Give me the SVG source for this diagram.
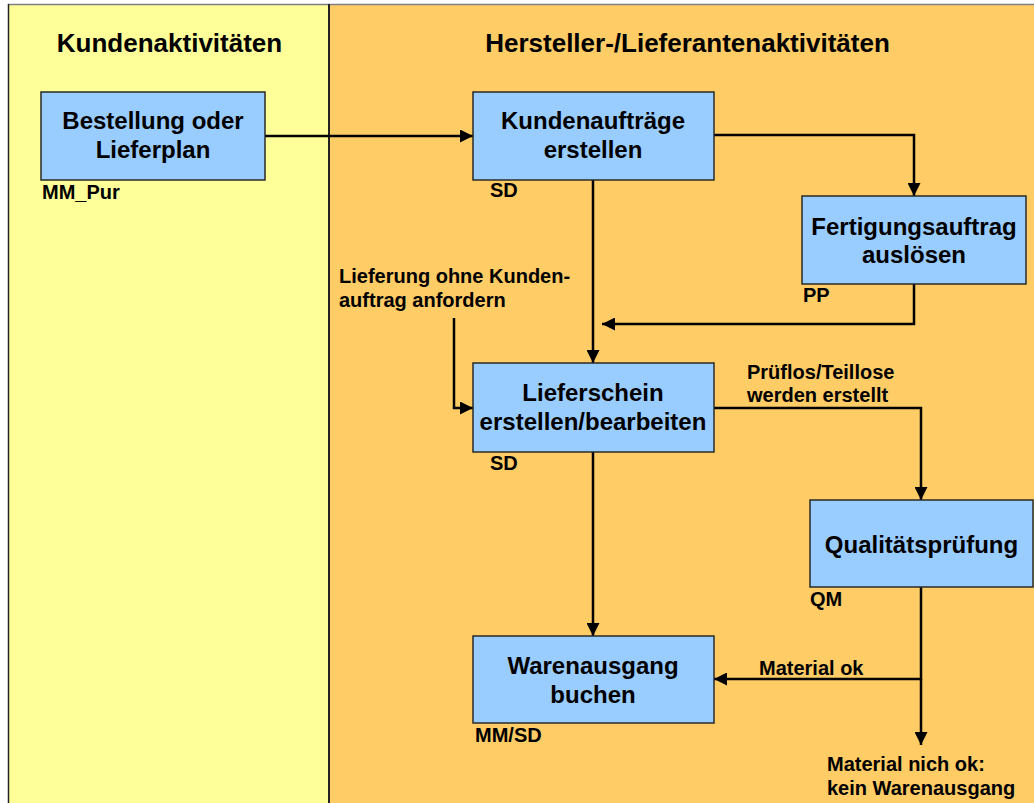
<svg xmlns="http://www.w3.org/2000/svg" width="1034" height="803" viewBox="0 0 1034 803">
<style>
text{font-family:"Liberation Sans",Arial,sans-serif;font-weight:bold;fill:#000}
.title{font-size:26px;text-anchor:middle}
.box rect{fill:#99CCFF;stroke:#2a2a2a;stroke-width:1.5}
.bt{font-size:24px;text-anchor:middle}
.lbl{font-size:20px}
.conn path{fill:none;stroke:#000;stroke-width:2.5}
</style>
<defs>
<marker id="ah" markerUnits="userSpaceOnUse" markerWidth="13" markerHeight="13" refX="13" refY="6.5" orient="auto">
<path d="M0,0 L13,6.5 L0,13 z" fill="#000"/>
</marker>
</defs>
<rect x="0" y="0" width="1034" height="803" fill="#fff"/>
<g id="lane-kunden">
<rect x="8" y="4.5" width="321" height="800" fill="#FFFF99"/>
<text class="title" x="169.5" y="52">Kundenaktivitäten</text>
</g>
<g id="lane-hersteller">
<rect x="329" y="4.5" width="706" height="800" fill="#FFCC66"/>
<text class="title" x="687.5" y="52">Hersteller-/Lieferantenaktivitäten</text>
</g>
<g id="frame">
<line x1="8" y1="4.5" x2="1034" y2="4.5" stroke="#808080" stroke-width="1.5"/>
<line x1="8.5" y1="4" x2="8.5" y2="803" stroke="#222" stroke-width="1.5"/>
<line x1="329" y1="4" x2="329" y2="803" stroke="#222" stroke-width="2"/>
</g>
<g id="connectors" class="conn">
<path d="M265,136 H473" marker-end="url(#ah)"/>
<path d="M714,135 H914 V196" marker-end="url(#ah)"/>
<path d="M593,180 V363" marker-end="url(#ah)"/>
<path d="M914,284 V324 H602" marker-end="url(#ah)"/>
<path d="M454,318 V408 H473" marker-end="url(#ah)"/>
<path d="M714,408 H921 V500" marker-end="url(#ah)"/>
<path d="M593,452 V636" marker-end="url(#ah)"/>
<path d="M921,587 V679 H714" marker-end="url(#ah)"/>
<path d="M921,679 V745" marker-end="url(#ah)"/>
</g>
<g id="node-bestellung" class="box">
<rect x="41" y="92" width="224" height="88"/>
<text class="bt" x="153" y="129">Bestellung oder</text>
<text class="bt" x="153" y="158">Lieferplan</text>
<text class="lbl" x="42" y="199">MM_Pur</text>
</g>
<g id="node-kundenauftraege" class="box">
<rect x="473" y="92" width="241" height="88"/>
<text class="bt" x="593" y="129">Kundenaufträge</text>
<text class="bt" x="593" y="158">erstellen</text>
<text class="lbl" x="490" y="197">SD</text>
</g>
<g id="node-fertigung" class="box">
<rect x="802" y="196" width="224" height="88"/>
<text class="bt" x="914" y="235">Fertigungsauftrag</text>
<text class="bt" x="914" y="263">auslösen</text>
<text class="lbl" x="803" y="302">PP</text>
</g>
<g id="node-lieferschein" class="box">
<rect x="473" y="363" width="241" height="89"/>
<text class="bt" x="593" y="401">Lieferschein</text>
<text class="bt" x="593" y="430">erstellen/bearbeiten</text>
<text class="lbl" x="490" y="470">SD</text>
</g>
<g id="node-qualitaet" class="box">
<rect x="810" y="500" width="223" height="87"/>
<text class="bt" x="921.5" y="553">Qualitätsprüfung</text>
<text class="lbl" x="810" y="606">QM</text>
</g>
<g id="node-warenausgang" class="box">
<rect x="473" y="636" width="241" height="87"/>
<text class="bt" x="593" y="674">Warenausgang</text>
<text class="bt" x="593" y="703">buchen</text>
<text class="lbl" x="475" y="742">MM/SD</text>
</g>
<g id="labels">
<text class="lbl" x="339" y="283">Lieferung ohne Kunden-</text>
<text class="lbl" x="339" y="307">auftrag anfordern</text>
<text class="lbl" x="747" y="379">Prüflos/Teillose</text>
<text class="lbl" x="747" y="402">werden erstellt</text>
<text class="lbl" x="759" y="675">Material ok</text>
<text class="lbl" x="827" y="771">Material nich ok:</text>
<text class="lbl" x="827" y="795">kein Warenausgang</text>
</g>
</svg>
